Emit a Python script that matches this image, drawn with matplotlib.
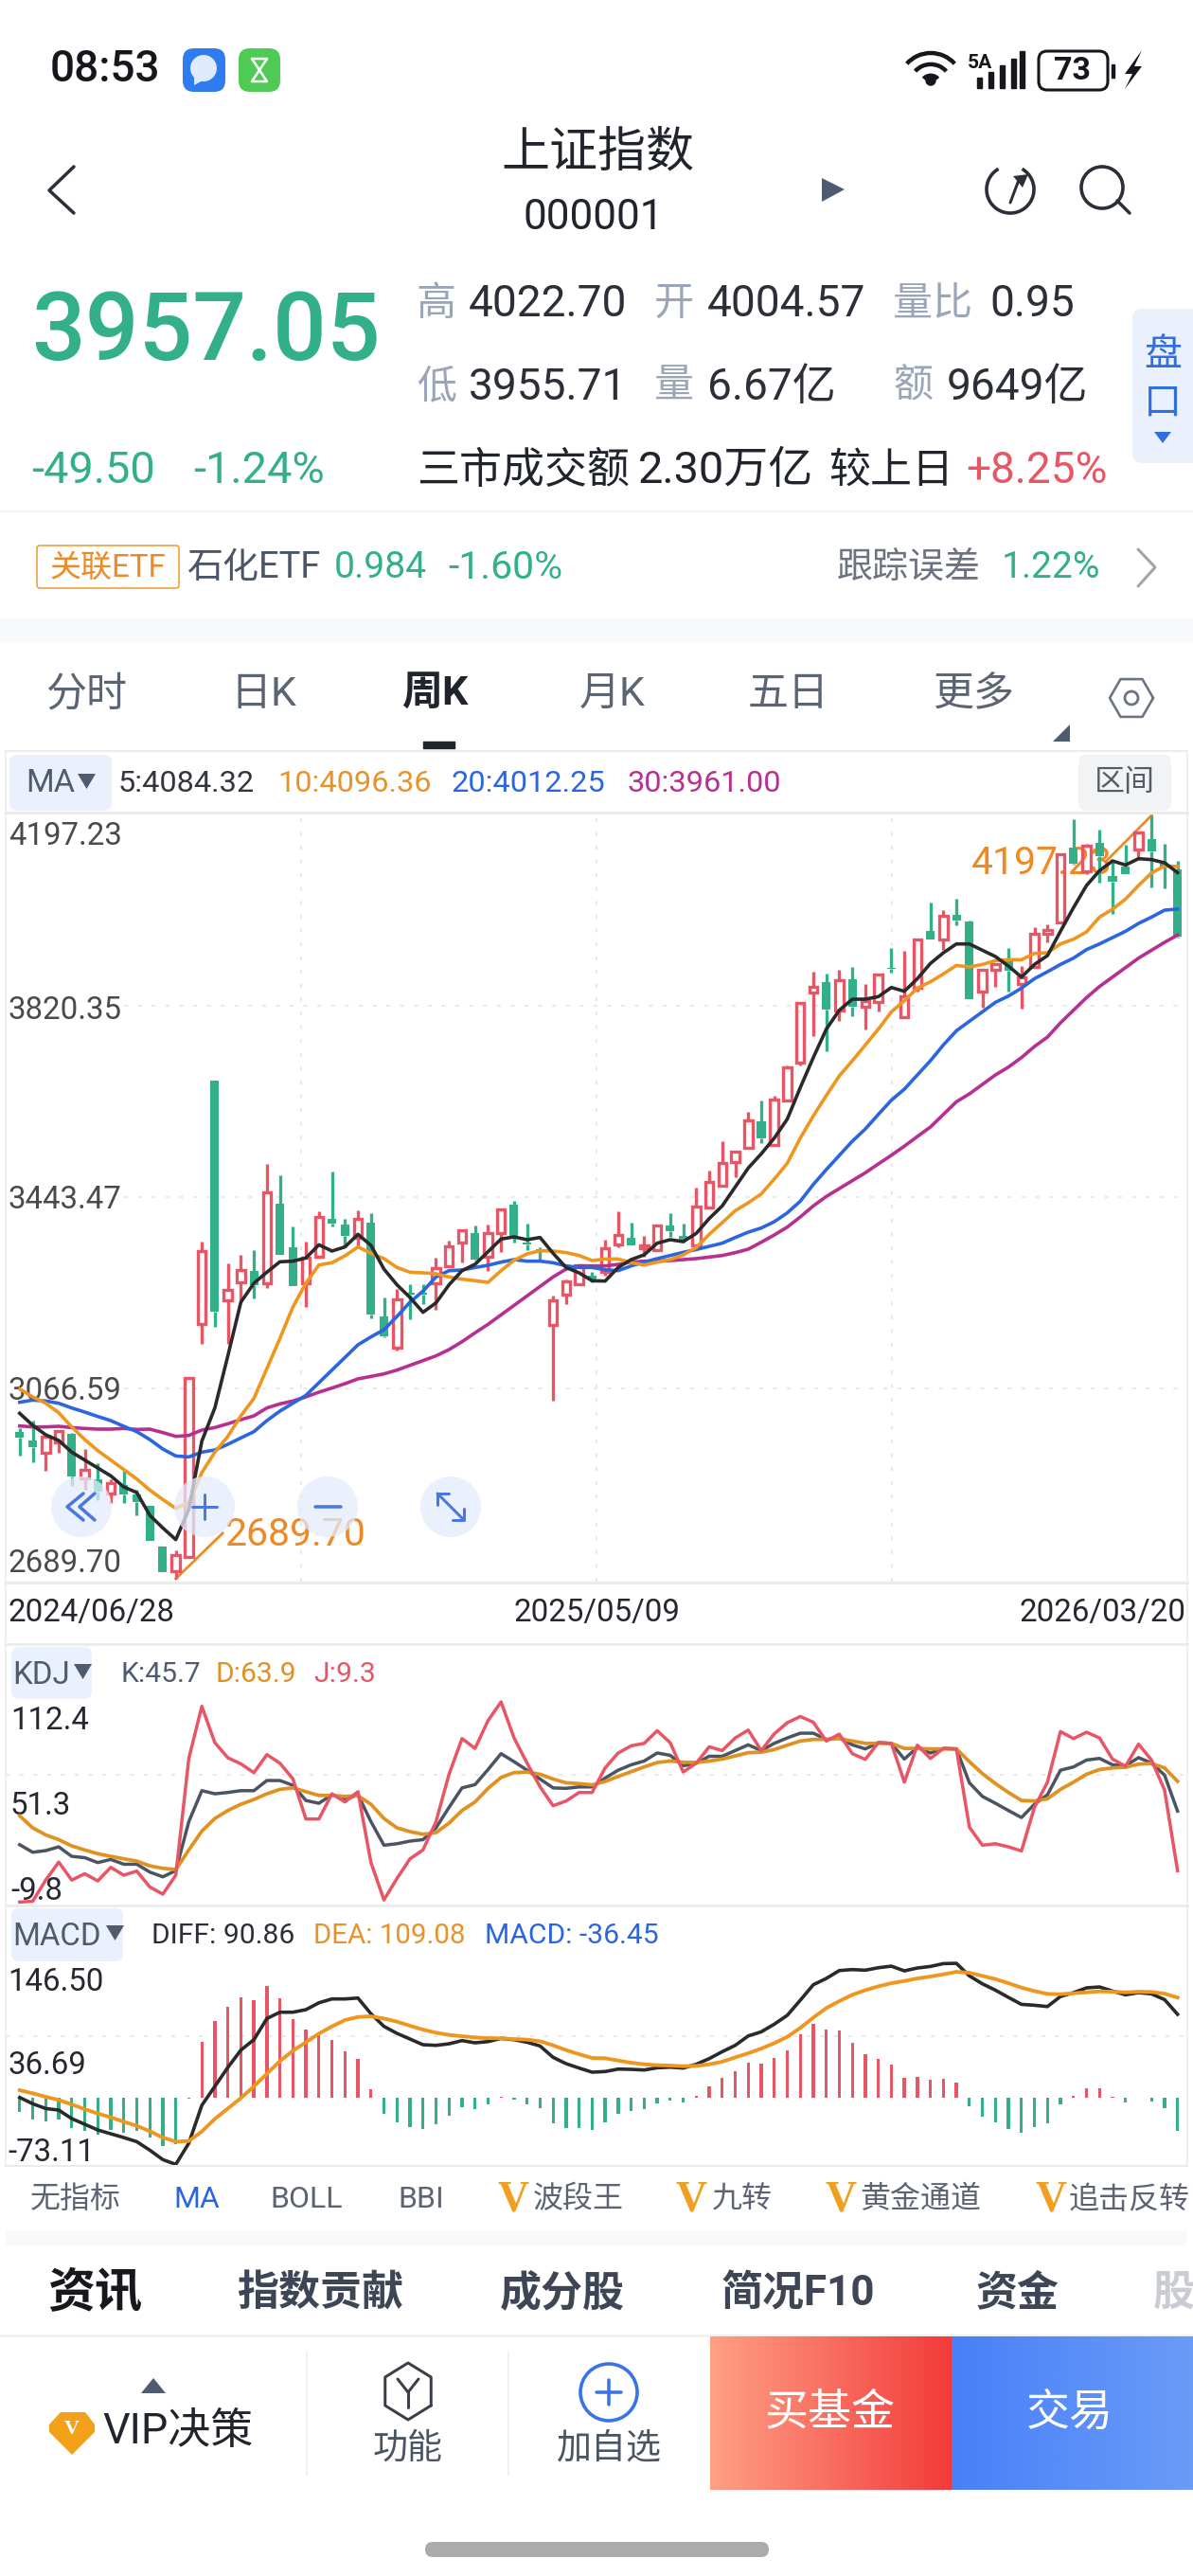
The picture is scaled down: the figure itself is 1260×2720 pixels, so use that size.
import numpy as np
import matplotlib
matplotlib.use('Agg')
import matplotlib.pyplot as plt
from matplotlib.patches import Arc, Circle, FancyBboxPatch, Polygon, Rectangle

plt.rcParams['font.family'] = ['Roboto', 'Noto Sans CJK SC', 'DejaVu Sans']

# weekly candles, 2024/06/28 .. 2026/03/20
open_ = [2980.2, 2962.8, 2938.5, 2959.7, 2975.9, 2887.9, 2886.7, 2857.4, 2874.2, 2855.5,
         2833.7, 2753.9, 2704.0, 2732.7, 3192.2, 3673.6, 3240.2, 3275.1, 3298.2, 3273.3,
         3431.0, 3343.7, 3273.3, 3325.0, 3401.1, 3388.6, 3363.7, 3393.6, 3207.8, 3146.7,
         3254.6, 3254.6, 3273.3, 3307.6, 3354.3, 3371.8, 3326.3, 3373.0, 3427.9, 3354.3,
         3340.0, 3191.0, 3251.5, 3271.4, 3289.0, 3295.1, 3349.9, 3363.6, 3341.8, 3338.7,
         3387.3, 3366.8, 3348.1, 3422.9, 3465.3, 3512.0, 3541.3, 3592.5, 3545.7, 3634.8,
         3709.6, 3846.8, 3868.6, 3811.2, 3873.6, 3820.0, 3828.1, 3896.7, 3798.8, 3856.1,
         3968.4, 3952.8, 4000.8, 3987.1, 3848.7, 3892.3, 3909.1, 3863.6, 3898.5, 3964.0,
         3985.2, 4133.6, 4086.8, 4142.9, 4077.5, 4096.2, 4129.2, 4150.4, 4102.4, 4091.2]
high = [2986.5, 3002.0, 2970.9, 2983.4, 2977.1, 2945.9, 2917.9, 2886.7, 2903.5, 2864.9,
        2833.7, 2753.9, 2745.2, 3086.2, 3356.2, 3673.6, 3311.9, 3329.4, 3338.7, 3508.3,
        3487.1, 3385.5, 3355.6, 3415.4, 3493.4, 3399.8, 3417.9, 3412.3, 3245.2, 3262.7,
        3272.0, 3272.0, 3323.2, 3357.4, 3379.3, 3387.4, 3388.6, 3419.8, 3436.6, 3391.7,
        3345.0, 3248.3, 3281.4, 3310.7, 3295.0, 3358.6, 3415.4, 3392.9, 3366.8, 3389.8,
        3412.3, 3391.7, 3461.5, 3495.8, 3553.8, 3535.1, 3611.8, 3634.9, 3643.0, 3703.4,
        3828.1, 3888.5, 3884.2, 3891.7, 3898.5, 3864.2, 3884.2, 3935.3, 3929.7, 3952.8,
        4024.5, 4010.8, 4032.6, 3990.2, 3893.5, 3904.8, 3935.3, 3899.8, 3975.8, 3982.1,
        4121.1, 4189.7, 4141.7, 4169.1, 4108.6, 4139.8, 4164.8, 4197.23, 4141.1, 4107.4]
low = [2932.2, 2919.7, 2903.5, 2937.8, 2872.4, 2864.9, 2844.9, 2838.7, 2838.7, 2815.0,
       2765.1, 2702.8, 2689.7, 2732.7, 3152.9, 3187.2, 3152.9, 3239.0, 3244.0, 3263.9,
       3329.4, 3267.0, 3226.5, 3323.2, 3385.5, 3348.1, 3348.1, 3204.7, 3167.3, 3140.5,
       3202.8, 3232.7, 3220.3, 3304.4, 3313.8, 3318.8, 3298.2, 3334.4, 3354.3, 3338.7,
       3316.9, 3040.7, 3232.7, 3270.2, 3276.0, 3288.8, 3344.9, 3348.1, 3326.2, 3337.5,
       3365.5, 3354.3, 3346.2, 3421.6, 3463.4, 3483.4, 3540.1, 3549.4, 3544.5, 3631.7,
       3703.4, 3761.4, 3731.4, 3791.9, 3801.2, 3773.8, 3809.4, 3886.1, 3796.9, 3849.9,
       3952.8, 3931.0, 3980.8, 3834.3, 3817.5, 3859.3, 3849.9, 3815.6, 3896.7, 3946.5,
       3983.9, 4099.3, 4080.6, 4065.0, 4002.6, 4080.6, 4114.9, 4055.7, 4052.5, 3955.71]
close = [2967.8, 2949.1, 2969.6, 2982.1, 2891.1, 2905.4, 2861.8, 2878.6, 2855.5, 2841.2,
         2765.1, 2702.8, 2737.1, 3086.2, 3337.5, 3217.2, 3260.8, 3299.5, 3270.2, 3452.2,
         3329.4, 3267.0, 3323.2, 3404.2, 3391.7, 3366.8, 3399.8, 3210.9, 3169.1, 3240.8,
         3251.5, 3251.5, 3302.6, 3346.2, 3378.6, 3320.0, 3373.0, 3418.5, 3364.9, 3350.0,
         3337.5, 3239.0, 3277.6, 3308.8, 3280.0, 3341.8, 3368.0, 3348.1, 3348.1, 3386.7,
         3376.1, 3357.4, 3424.1, 3472.8, 3510.2, 3533.9, 3594.3, 3560.0, 3636.7, 3699.0,
         3826.2, 3858.0, 3813.7, 3871.7, 3820.0, 3829.9, 3882.9, 3893.5, 3840.5, 3951.5,
         3952.8, 3998.3, 3990.2, 3834.3, 3891.7, 3902.9, 3890.4, 3878.0, 3964.0, 3971.5,
         4121.1, 4102.4, 4136.7, 4116.8, 4066.9, 4081.8, 4163.5, 4125.5, 4096.2, 3957.05]

ma5 = [3016.4, 2992.7, 2974.0, 2962.8, 2939.7, 2924.1, 2908.5, 2892.9, 2871.1, 2859.9,
       2815.0, 2790.1, 2767.0, 2826.8, 2961.5, 3027.0, 3129.9, 3235.9, 3273.3, 3295.1,
       3315.7, 3316.9, 3323.2, 3349.3, 3336.9, 3345.0, 3369.9, 3348.1, 3301.3, 3270.2,
       3245.2, 3215.9, 3234.6, 3270.2, 3298.2, 3310.7, 3335.6, 3360.6, 3364.9, 3359.3,
       3363.7, 3332.5, 3304.4, 3293.8, 3278.2, 3277.6, 3304.4, 3320.0, 3329.4, 3352.4,
       3359.3, 3355.5, 3371.7, 3401.1, 3426.0, 3463.4, 3500.8, 3528.9, 3560.0, 3597.5,
       3659.7, 3718.9, 3775.1, 3812.5, 3834.3, 3834.3, 3839.3, 3857.4, 3849.9, 3874.8,
       3904.8, 3925.9, 3943.4, 3943.4, 3930.9, 3918.5, 3899.8, 3877.9, 3902.9, 3920.4,
       3968.4, 4015.1, 4058.8, 4088.1, 4107.4, 4099.3, 4111.8, 4109.9, 4103.7, 4084.32]
ma10 = [3064.4, 3048.8, 3036.3, 3017.6, 2989.6, 2964.6, 2942.8, 2924.1, 2905.4, 2886.7,
        2864.9, 2846.2, 2828.7, 2839.9, 2899.2, 2939.7, 2970.9, 3011.4, 3045.7, 3104.9,
        3164.2, 3226.5, 3273.3, 3309.4, 3313.8, 3327.5, 3345.0, 3332.5, 3321.9, 3304.4,
        3295.1, 3293.8, 3292.0, 3285.7, 3281.4, 3278.3, 3275.1, 3298.2, 3318.8, 3331.3,
        3337.5, 3336.9, 3333.8, 3328.1, 3318.1, 3321.2, 3321.2, 3313.8, 3309.4, 3315.0,
        3320.0, 3329.4, 3343.7, 3369.9, 3392.9, 3416.6, 3432.2, 3449.7, 3479.0, 3510.2,
        3560.0, 3603.6, 3644.1, 3682.8, 3712.7, 3743.9, 3775.1, 3809.4, 3831.2, 3856.1,
        3868.6, 3884.2, 3901.0, 3897.9, 3902.9, 3910.4, 3912.2, 3912.2, 3924.7, 3926.0,
        3943.4, 3952.8, 3967.1, 3996.4, 4012.0, 4032.0, 4058.8, 4083.7, 4097.4, 4096.36]
ma20 = [3038.2, 3042.6, 3040.7, 3036.3, 3027.0, 3018.9, 3010.2, 3002.0, 2990.8, 2980.2,
        2964.6, 2945.9, 2932.2, 2930.3, 2939.7, 2944.0, 2955.3, 2967.8, 2980.2, 3002.0,
        3020.8, 3036.3, 3051.9, 3076.9, 3101.8, 3126.7, 3151.7, 3167.3, 3181.6, 3207.8,
        3235.9, 3257.7, 3285.7, 3298.2, 3299.5, 3304.4, 3308.8, 3315.0, 3320.0, 3316.9,
        3316.9, 3313.8, 3307.6, 3304.4, 3304.4, 3300.0, 3298.2, 3307.5, 3315.0, 3321.9,
        3328.1, 3334.3, 3339.9, 3346.2, 3352.4, 3363.6, 3374.2, 3382.4, 3394.8, 3412.3,
        3435.3, 3468.4, 3497.7, 3525.8, 3553.8, 3578.0, 3606.8, 3634.8, 3656.6, 3684.7,
        3712.7, 3743.9, 3771.9, 3790.7, 3809.4, 3828.1, 3840.5, 3856.1, 3874.8, 3888.5,
        3902.9, 3915.4, 3932.2, 3943.4, 3955.9, 3968.4, 3983.9, 3996.4, 4010.1, 4012.25]
ma30 = [2991.5, 2989.6, 2989.6, 2990.8, 2988.3, 2986.5, 2985.2, 2985.2, 2986.5, 2984.6,
        2985.2, 2978.4, 2970.9, 2972.7, 2983.4, 2988.3, 2995.8, 3003.9, 3011.4, 3027.0,
        3035.1, 3040.7, 3048.8, 3058.2, 3066.3, 3075.0, 3084.4, 3089.3, 3094.3, 3101.8,
        3111.2, 3120.5, 3129.9, 3142.3, 3157.9, 3175.4, 3192.2, 3210.9, 3229.6, 3248.3,
        3267.0, 3285.7, 3301.3, 3307.6, 3307.5, 3307.5, 3310.6, 3315.0, 3316.9, 3316.9,
        3318.1, 3320.0, 3321.9, 3325.0, 3328.1, 3333.7, 3340.6, 3354.3, 3368.6, 3384.2,
        3404.2, 3426.0, 3444.7, 3460.3, 3475.9, 3491.5, 3508.9, 3526.0, 3544.0, 3563.1,
        3581.8, 3606.7, 3631.7, 3647.3, 3666.0, 3684.7, 3700.2, 3719.0, 3740.8, 3759.5,
        3787.6, 3812.5, 3837.4, 3859.3, 3878.0, 3896.7, 3915.4, 3931.0, 3946.5, 3961.0]

kdj_k = [25.2, 20.6, 21.6, 23.9, 18.1, 17.3, 14.3, 16.2, 13.3, 13.3,
         8.5, 5.6, 9.4, 39.3, 58.2, 56.3, 57.1, 58.2, 58.2, 64.4,
         64.4, 61.5, 52.2, 50.5, 55.7, 52.8, 55.7, 39.3, 24.9, 25.8,
         27.4, 28.3, 35.5, 48.0, 59.9, 61.9, 71.1, 80.8, 75.9, 70.7,
         65.3, 59.9, 59.6, 60.5, 60.5, 65.9, 70.7, 74.0, 76.3, 81.2,
         79.8, 73.4, 75.0, 79.2, 79.2, 82.7, 86.2, 82.7, 87.1, 90.4,
         93.3, 93.3, 89.5, 90.4, 86.2, 83.7, 87.5, 87.1, 77.5, 84.6,
         81.2, 84.0, 83.7, 63.0, 54.7, 50.5, 46.1, 41.8, 49.9, 55.7,
         70.7, 72.7, 76.9, 77.9, 74.0, 73.4, 78.4, 75.0, 67.7, 45.7]
kdj_d = [42.8, 35.5, 31.2, 28.3, 24.5, 22.0, 19.7, 18.1, 16.6, 15.2,
         12.3, 10.8, 10.0, 22.0, 33.5, 41.2, 46.1, 49.9, 52.8, 56.3,
         59.0, 59.9, 57.6, 55.3, 55.3, 54.7, 55.1, 49.9, 41.2, 35.5,
         33.2, 31.6, 32.6, 38.4, 46.1, 51.3, 59.6, 66.3, 69.2, 69.6,
         68.2, 65.3, 63.0, 62.5, 61.7, 63.8, 66.9, 69.8, 72.7, 75.4,
         76.3, 75.6, 75.4, 76.3, 77.5, 79.4, 81.4, 81.7, 83.3, 86.0,
         88.5, 89.5, 89.5, 90.0, 88.5, 87.1, 87.1, 87.1, 84.0, 84.0,
         83.7, 83.7, 83.7, 75.9, 68.6, 62.5, 57.1, 52.2, 51.9, 53.2,
         59.0, 63.4, 68.2, 71.1, 72.1, 72.5, 74.4, 74.8, 72.1, 63.9]
kdj_j = [-9.8, -9.3, 3.6, 14.6, 3.6, 7.5, 3.1, 11.4, 6.6, 9.1,
         -0.6, -5.0, 6.6, 77.9, 109.7, 87.5, 78.3, 74.6, 69.2, 80.2,
         75.0, 65.4, 40.9, 40.9, 56.3, 51.3, 57.6, 14.3, -8.5, 4.6,
         16.6, 22.0, 39.3, 68.2, 90.0, 84.0, 101.0, 112.4, 90.4, 75.0,
         60.5, 49.0, 51.9, 57.1, 57.1, 72.1, 81.2, 85.6, 87.1, 94.8,
         87.5, 69.6, 75.0, 85.0, 82.7, 90.4, 95.2, 82.7, 92.9, 99.7,
         103.5, 100.0, 88.5, 92.7, 80.8, 77.3, 87.5, 87.1, 63.4, 86.0,
         77.9, 84.0, 83.7, 35.9, 24.9, 25.8, 23.9, 21.4, 48.0, 63.4,
         94.3, 90.0, 93.9, 90.4, 77.5, 73.1, 86.6, 76.9, 58.6, 9.3]

diff = [0.0, -6.9, -12.1, -13.8, -23.1, -29.3, -35.5, -39.7, -43.8, -48.3,
        -57.6, -67.9, -73.11, -50.0, -8.6, 12.1, 32.8, 51.7, 63.1, 86.2,
        93.1, 93.1, 95.9, 103.4, 107.6, 107.6, 108.6, 91.4, 77.6, 70.0,
        63.8, 57.6, 56.9, 58.6, 62.1, 59.7, 61.0, 64.5, 63.1, 60.3,
        56.2, 43.8, 36.9, 32.1, 27.6, 28.3, 31.0, 30.7, 30.0, 32.4,
        33.1, 32.1, 36.2, 42.4, 50.0, 56.9, 67.2, 71.7, 80.0, 89.7,
        106.2, 123.1, 130.0, 138.6, 139.7, 139.0, 141.7, 143.4, 138.3, 141.4,
        143.1, 146.2, 146.5, 132.8, 124.1, 117.2, 109.3, 101.7, 100.7, 99.3,
        110.3, 114.5, 119.7, 120.7, 116.2, 112.1, 114.5, 113.1, 106.9, 90.86]
dea = [7.9, 4.5, 0.7, -2.8, -7.6, -12.8, -17.6, -21.7, -26.6, -31.0,
       -36.9, -43.8, -48.3, -47.6, -37.2, -23.4, -12.1, -0.7, 12.1, 25.9,
       39.7, 51.0, 60.3, 69.7, 77.6, 84.5, 87.9, 88.6, 86.2, 82.8,
       78.3, 74.1, 70.7, 68.3, 66.9, 65.5, 64.8, 64.5, 63.8, 63.1,
       61.4, 56.9, 51.7, 47.2, 43.1, 42.8, 40.3, 37.9, 36.2, 35.2,
       34.8, 34.1, 34.5, 36.2, 39.0, 43.8, 48.3, 53.4, 59.3, 66.2,
       75.9, 87.2, 97.6, 105.2, 112.1, 117.2, 121.4, 124.8, 127.2, 130.0,
       132.1, 134.5, 137.2, 136.2, 132.8, 129.3, 124.8, 120.0, 116.2, 113.1,
       112.8, 113.8, 114.8, 115.9, 115.5, 114.8, 115.5, 115.2, 113.4, 109.08]
macd = [-15.5, -24.1, -25.9, -24.1, -33.4, -36.2, -40.3, -35.5, -39.0, -36.9,
        -43.8, -52.8, -50.7, -1.7, 61.0, 83.4, 99.0, 109.3, 105.9, 121.4,
        108.6, 85.5, 74.1, 71.4, 63.1, 50.0, 42.1, 9.3, -18.3, -27.2,
        -32.1, -34.5, -29.3, -20.0, -10.3, -12.4, -7.6, 0.7, -2.4, -7.2,
        -12.1, -28.6, -33.8, -33.8, -35.2, -26.9, -17.9, -14.8, -12.8, -6.6,
        -3.8, -5.2, 1.7, 11.7, 21.4, 28.6, 38.3, 37.2, 43.4, 51.7,
        69.3, 80.0, 74.5, 73.1, 59.7, 47.6, 42.4, 36.2, 21.0, 22.4,
        19.7, 20.3, 16.2, -9.3, -20.7, -27.2, -34.5, -39.0, -32.8, -28.6,
        -7.6, 1.7, 9.7, 9.7, 0.7, -5.2, -0.3, -4.5, -12.1, -36.45]

price_ticks = ['4197.23', '3820.35', '3443.47', '3066.59', '2689.70']
date_ticks = ['2024/06/28', '2025/05/09', '2026/03/20']
indicator_tabs = ['无指标', 'MA', 'BOLL', 'BBI']
vip_tabs = ['波段王', '九转', '黄金通道', '追击反转']

GREEN = '#33b08a'
RED = '#e85565'
C_MA5 = '#2a2a2a'
C_MA10 = '#ef961f'
C_MA20 = '#2c65e0'
C_MA30 = '#b8308f'
GRAY = '#4f5b6e'
LIGHT = '#eaf1fc'
GRID = '#e9e9e9'

W, H = 1260, 2720
x = np.arange(len(close))
fig = plt.figure(figsize=(W / 100, H / 100), dpi=100, facecolor='white')


def panel(top, bottom, ylim):
    ax = fig.add_axes([6 / W, 1 - bottom / H, 1248 / W, (bottom - top) / H], zorder=1)
    ax.set_xlim(-1.077, 89.75)
    ax.set_ylim(*ylim)
    ax.axis('off')
    return ax


main = panel(858, 1670, (2684.1, 4202.84))
kdj = panel(1736, 2012, (-11.9, 147.7))
mac = panel(2012, 2287, (-74.8, 209.7))

# full page layer, in pixels
ui = fig.add_axes([0, 0, 1, 1], zorder=5)
ui.set_xlim(0, W)
ui.set_ylim(H, 0)
ui.axis('off')


def txt(px_x, px_y, s, px, color='#2b2f38', ha='left', weight='normal', ax=None, zorder=5, family=None, alpha=None):
    ax = ax or ui
    kw = {} if family is None else {'family': family}
    # va=center sits a little high with these fonts
    return ax.text(px_x, px_y + 3.5, s, fontsize=px * 0.72, color=color, ha=ha, va='center', weight=weight,
                   transform=ui.transData, zorder=zorder, clip_on=False, alpha=alpha, **kw)


def poly(pts, color, zorder=5):
    ui.add_patch(Polygon(pts, closed=True, facecolor=color, edgecolor='none', zorder=zorder))


def stroke(xs, ys, color, lw=3, zorder=5, **kw):
    ui.plot(xs, ys, color=color, lw=lw * 0.72, zorder=zorder, solid_capstyle='round', **kw)


def box(x0, y0, x1, y1, color, r=8, edge='none', lw=0, zorder=2):
    ui.add_patch(FancyBboxPatch((x0 + r, y0 + r), x1 - x0 - 2 * r, y1 - y0 - 2 * r, boxstyle=f'round,pad={r}',
                                facecolor=color, edgecolor=edge, linewidth=lw, zorder=zorder))


def gradient(x0, x1, y0, y1, c0, c1):
    g = np.linspace(0, 1, 256).reshape(1, -1)
    cmap = matplotlib.colors.LinearSegmentedColormap.from_list('g', [c0, c1])
    ui.imshow(g, extent=(x0, x1, y1, y0), cmap=cmap, aspect='auto', zorder=2)
    ui.set_xlim(0, W)
    ui.set_ylim(H, 0)


# ---- candles + MA
for frac in [0.25, 0.5, 0.75]:
    main.plot([frac, frac], [0, 1], transform=main.transAxes, color=GRID, lw=1.5, ls=(0, (2, 5)), zorder=1)
for level in price_ticks[1:4]:
    main.plot([0.1, 1], [float(level)] * 2, transform=main.get_yaxis_transform(), color=GRID, lw=1.5,
              ls=(0, (2, 5)), zorder=1)

for tick, ypx in zip(price_ticks, [879, 1063, 1264, 1465, 1648]):
    txt(9, ypx, tick, 33, '#4a4a4a', ax=main, zorder=2)

# high / low markers sit under the candles
hi_i, lo_i = int(np.argmax(high)), int(np.argmin(low))
txt(1026, 908, '4197.23', 41, '#ee8a25', ax=main, zorder=2)
txt(237, 1617, '2689.70', 41, '#ee8a25', ax=main, zorder=2)
main.plot([hi_i, hi_i - 3.4], [high[hi_i], high[hi_i] - 88], color='#ee8a25', lw=2, zorder=2)
main.plot([lo_i, lo_i + 3.6], [low[lo_i], low[lo_i] + 90], color='#ee8a25', lw=2, zorder=2)

for i in x:
    up = close[i] >= open_[i]
    col = RED if up else GREEN
    top, bot = max(open_[i], close[i]), min(open_[i], close[i])
    main.plot([i, i], [top, high[i]], color=col, lw=2.4, solid_capstyle='butt', zorder=3)
    main.plot([i, i], [low[i], bot], color=col, lw=2.4, solid_capstyle='butt', zorder=3)
    if up:
        main.bar(i, top - bot, bottom=bot, width=0.62, facecolor='none', edgecolor=col, linewidth=2.4, zorder=3)
    else:
        main.bar(i, top - bot, bottom=bot, width=0.66, color=col, linewidth=0, zorder=3)

for series, col in [(ma30, C_MA30), (ma20, C_MA20), (ma10, C_MA10), (ma5, C_MA5)]:
    main.plot(x, series, color=col, lw=2.6, zorder=4, solid_joinstyle='round')

# ---- KDJ
kdj.plot([0, 1], [0.5, 0.5], transform=kdj.transAxes, color=GRID, lw=1.5, ls=(0, (2, 5)), zorder=1)
for tick, ypx, col in [('112.4', 1813, '#25282e'), ('51.3', 1903, '#25282e'), ('-9.8', 1993, '#25282e')]:
    txt(11, ypx, tick, 33, col, ax=kdj, zorder=2)
kdj.plot(x, kdj_k, color='#4a5463', lw=2.5, zorder=3)
kdj.plot(x, kdj_d, color='#e0911f', lw=2.7, zorder=4)
kdj.plot(x, kdj_j, color=RED, lw=2.5, zorder=5)

# ---- MACD
mac.plot([0, 1], [0.5, 0.5], transform=mac.transAxes, color=GRID, lw=1.5, ls=(0, (2, 5)), zorder=1)
for tick, ypx in [('146.50', 2089), ('36.69', 2177), ('-73.11', 2270)]:
    txt(8, ypx, tick, 33, '#25282e', ax=mac, zorder=2)
mac.bar(x, macd, width=0.24, color=[RED if v > 0 else GREEN for v in macd], linewidth=0, zorder=2)
mac.plot(x, diff, color=C_MA5, lw=2.6, zorder=3)
mac.plot(x, dea, color=C_MA10, lw=2.8, zorder=4)

# ---- frame of the chart block
for yy, lw, col in [(793, 1.5, '#ececec'), (858, 2.2, '#ebebeb'), (1671, 2.2, '#ebebeb'), (1736, 2, '#ebebeb'),
                    (2012, 2, '#ebebeb'), (2287, 1.5, '#ebebeb')]:
    ui.plot([6, 1254], [yy, yy], color=col, lw=lw, zorder=1)
ui.plot([6, 6], [793, 2287], color='#ececec', lw=1.2, zorder=1)
ui.plot([1254, 1254], [793, 2287], color='#ececec', lw=1.2, zorder=1)

# ---- zoom buttons over the chart
for cx in [86, 216, 346, 476]:
    ui.add_patch(Circle((cx, 1591), 32, facecolor='#e4ebfb', edgecolor='none', alpha=0.75, zorder=6))
BLUE_ICON = '#4a78e0'
stroke([88, 71, 88], [1577, 1591, 1605], BLUE_ICON, 3.5, 7)
stroke([100, 84, 100], [1577, 1591, 1605], BLUE_ICON, 3.5, 7)
stroke([203, 229], [1591, 1591], BLUE_ICON, 3, 7)
stroke([216, 216], [1578, 1604], BLUE_ICON, 3, 7)
stroke([333, 360], [1591, 1591], BLUE_ICON, 3.5, 7)
stroke([462, 490], [1577, 1605], BLUE_ICON, 3, 7)
stroke([462, 462, 474], [1589, 1577, 1577], BLUE_ICON, 3, 7)
stroke([490, 490, 478], [1593, 1605, 1605], BLUE_ICON, 3, 7)

# ---- status bar
txt(53, 70, '08:53', 46, '#15171c', weight='medium')
box(193, 51, 238, 97, '#2f7bf0', r=12)
ui.add_patch(Circle((215, 72), 14, facecolor='#dfeafc', edgecolor='none', zorder=4))
poly([(205, 80), (205, 90), (216, 84)], '#dfeafc')
box(252, 51, 296, 97, '#4fcb55', r=12)
stroke([266, 282, 266, 282, 266], [62, 62, 86, 86, 62], 'white', 2.5, 4)
for r_ in [12, 26, 40]:
    ui.add_patch(Arc((983, 90), r_ * 1.7, r_ * 1.7, theta1=222, theta2=318, color='#15171c', lw=3.2, zorder=5))
ui.add_patch(Circle((983, 85), 5, color='#15171c', zorder=5))
txt(1022, 63, '5A', 21, '#15171c', weight='bold')
for bx, btop in zip([1034, 1046, 1058, 1070, 1079], [82, 76, 69, 62, 54]):
    ui.add_patch(Rectangle((bx - 2, btop), 4.5, 93 - btop, color='#15171c', zorder=5))
box(1097, 54, 1170, 95, 'white', r=9, edge='#15171c', lw=2.2, zorder=4)
txt(1133, 72, '73', 34, '#15171c', ha='center', weight='bold')
ui.add_patch(Rectangle((1174, 68), 3, 14, color='#15171c', zorder=5))
poly([(1206, 53), (1188, 78), (1196, 78), (1188, 94), (1206, 70), (1198, 70)], '#15171c')

# ---- header
stroke([78, 52, 78], [176, 201, 225], '#2b2f38', 3.5)
txt(631, 158, '上证指数', 51, '#20242c', ha='center', weight='medium')
txt(627, 227, '000001', 44, '#20242c', ha='center')
poly([(868, 188), (892, 200), (868, 213)], GRAY)
ui.add_patch(Arc((1067, 200), 50, 50, theta1=300, theta2=240, color='#2b2f38', lw=2.6, zorder=5))
stroke([1067, 1076], [214, 190], '#2b2f38', 3)
poly([(1070, 186), (1086, 184), (1080, 198)], '#2b2f38')
ui.add_patch(Arc((1164, 198), 44, 44, theta1=0, theta2=360, color='#2b2f38', lw=2.6, zorder=5))
stroke([1180, 1193], [212, 225], '#2b2f38', 3.5)

txt(33, 349, '3957.05', 100, GREEN, weight='medium')
LABEL = '#9aa5b8'
for px_x, s in [(440, '高'), (691, '开'), (943, '量比')]:
    txt(px_x, 318, s, 42, LABEL)
for px_x, s in [(495, '4022.70'), (747, '4004.57'), (1045, '0.95')]:
    txt(px_x, 318, s, 46)
for px_x, s in [(440, '低'), (691, '量'), (943, '额')]:
    txt(px_x, 405, s, 42, LABEL)
for px_x, s in [(495, '3955.71'), (747, '6.67亿'), (1000, '9649亿')]:
    txt(px_x, 405, s, 46)
txt(33, 494, '-49.50', 47, GREEN)
txt(204, 494, '-1.24%', 47, GREEN)
txt(440, 494, '三市成交额', 45, '#20242c')
txt(674, 494, '2.30万亿', 47, '#20242c')
txt(875, 494, '较上日', 44, '#20242c')
txt(1020, 494, '+8.25%', 46, RED)

box(1196, 326, 1275, 489, LIGHT, r=10)
txt(1228, 371, '盘', 40, '#2f6fe0', ha='center')
txt(1228, 422, '口', 40, '#2f6fe0', ha='center')
poly([(1219, 456), (1237, 456), (1228, 468)], '#2f6fe0')

ui.plot([0, W], [540, 540], color='#f2f3f5', lw=1.5, zorder=1)
box(39, 576, 189, 621, 'white', r=3, edge='#f0a040', lw=1.2)
txt(114, 596, '关联ETF', 33, '#ee8a25', ha='center')
txt(197, 596, '石化ETF', 38, '#4a5568')
txt(353, 596, '0.984', 39, GREEN)
txt(473, 596, '-1.60%', 41, GREEN)
txt(884, 596, '跟踪误差', 38, '#6b7280')
txt(1058, 596, '1.22%', 39, GREEN)
stroke([1202, 1220, 1202], [580, 599, 619], '#a0a4ab', 3)

ui.add_patch(Rectangle((0, 653), W, 25, facecolor='#f8f9fb', edgecolor='none', zorder=1))
for px_x, s in [(48, '分时'), (243, '日K'), (612, '月K'), (790, '五日'), (985, '更多')]:
    txt(px_x, 730, s, 43, '#5a6472')
txt(424, 730, '周K', 43, '#20242c', weight='bold')
ui.add_patch(Rectangle((447, 783), 33, 7, color='#20242c', zorder=5))
poly([(1130, 765), (1130, 783), (1112, 783)], GRAY)
hex_t = np.deg2rad(np.arange(0, 420, 60))
stroke(1195 + 23 * np.cos(hex_t), 737 + 23 * np.sin(hex_t), '#6a7482', 2.6)
ui.add_patch(Circle((1195, 737), 7, facecolor='none', edgecolor='#6a7482', lw=2, zorder=5))

# ---- chart legend rows
box(10, 797, 118, 856, LIGHT, r=8)
txt(27, 824, 'MA', 34, GRAY)
poly([(82, 817), (101, 817), (91.5, 833)], GRAY)
txt(125, 824, '5:4084.32', 32.5, '#33363c')
txt(293, 824, '10:4096.36', 32.5, '#e8932a')
txt(477, 824, '20:4012.25', 32.5, '#2c65e0')
txt(662, 824, '30:3961.00', 32.5, '#b8308f')
box(1139, 797, 1237, 856, '#f2f3f5', r=8)
txt(1188, 823, '区间', 32, '#555c66', ha='center')

txt(8, 1700, date_ticks[0], 33, '#25282e')
txt(630, 1700, date_ticks[1], 33, '#25282e', ha='center')
txt(1252, 1700, date_ticks[2], 33, '#25282e', ha='right')

box(12, 1739, 97, 1794, LIGHT, r=8)
txt(13, 1765, 'KDJ', 33, GRAY)
poly([(78, 1757), (97, 1757), (87.5, 1773)], GRAY)
txt(127, 1765, 'K:45.7', 30, GRAY)
txt(227, 1765, 'D:63.9', 30, '#e0911f')
txt(331, 1765, 'J:9.3', 30, RED)

box(12, 2015, 130, 2071, LIGHT, r=8)
txt(13, 2041, 'MACD', 33, GRAY)
poly([(112, 2033), (131, 2033), (121.5, 2049)], GRAY)
txt(160, 2041, 'DIFF: 90.86', 30, '#2b2f38')
txt(331, 2041, 'DEA: 109.08', 29.5, '#e8932a')
txt(512, 2041, 'MACD: -36.45', 30, '#2c65e0')

# ---- indicator row
for px_x, s in zip([32, 183, 285, 420], indicator_tabs):
    txt(px_x, 2319, s, 32, '#2c65e0' if s == 'MA' else '#5a6472')
for vx, tx, s in zip([525, 714, 871, 1093], [563, 752, 908, 1129], vip_tabs):
    txt(vx, 2320, 'V', 46, '#f0a020', weight='bold', family='Liberation Serif')
    txt(tx, 2319, s, 32, '#5a6472')
ui.add_patch(Rectangle((6, 2355), 1248, 16, facecolor='#f8f9fb', edgecolor='none', zorder=1))

txt(50, 2419, '资讯', 50, '#16181d', weight='bold')
for px_x, s in [(250, '指数贡献'), (528, '成分股'), (762, '简况F10'), (1031, '资金')]:
    txt(px_x, 2419, s, 44, '#3e4656', weight='bold')
txt(1218, 2419, '股', 44, '#c9ccd2', weight='bold')

# ---- bottom bar
ui.plot([0, W], [2466, 2466], color='#f0f0f0', lw=2, zorder=1)
poly([(162, 2511), (175, 2527), (149, 2527)], GRAY)
poly([(64, 2547), (90, 2547), (100, 2560), (100, 2568), (76, 2592), (52, 2568), (52, 2560)], '#f4a11a')
txt(76, 2562, 'V', 22, 'white', ha='center', weight='bold', family='Liberation Serif')
txt(108, 2564, 'VIP决策', 45, '#20242c')
ui.plot([324, 324], [2484, 2613], color='#eceef0', lw=1.2, zorder=1)
ui.plot([537, 537], [2484, 2613], color='#eceef0', lw=1.2, zorder=1)
hex_t = np.deg2rad(np.arange(30, 450, 60))
stroke(431 + 28 * np.cos(hex_t), 2525 + 30 * np.sin(hex_t), '#3a404a', 3)
stroke([420, 431, 442], [2512, 2526, 2512], '#3a404a', 3)
stroke([431, 431], [2526, 2542], '#3a404a', 3)
txt(431, 2582, '功能', 37, '#4a5563', ha='center')
ui.add_patch(Circle((643, 2526), 30, facecolor='none', edgecolor='#3a73e8', lw=2.6, zorder=5))
stroke([630, 656], [2526, 2526], '#3a73e8', 3.5)
stroke([643, 643], [2513, 2539], '#3a73e8', 3.5)
txt(643, 2582, '加自选', 37, '#4a5563', ha='center')
gradient(750, 1005, 2467, 2629, '#ffa085', '#f33a3a')
gradient(1005, 1260, 2467, 2629, '#4880f8', '#6b9bf8')
txt(877, 2544, '买基金', 46, 'white', ha='center')
txt(1130, 2544, '交易', 46, 'white', ha='center')
box(449, 2684, 812, 2700, '#ababab', r=8)

fig.savefig('out.png', dpi=100, facecolor='white')
